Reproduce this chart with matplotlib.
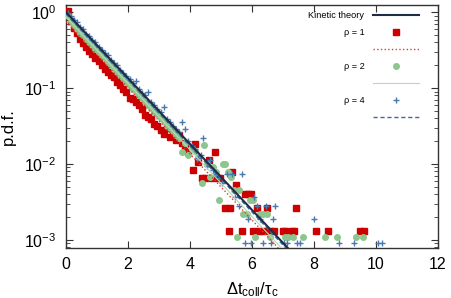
import matplotlib
matplotlib.use("Agg")
import matplotlib.pyplot as plt

plt.rcParams['font.family'] = ['Liberation Sans', 'DejaVu Sans']
plt.rcParams['mathtext.fontset'] = 'custom'
plt.rcParams['mathtext.rm'] = 'Liberation Sans'
plt.rcParams['mathtext.it'] = 'Liberation Sans'
plt.rcParams['mathtext.default'] = 'regular'

# ---------------- data ----------------
theory_t = [0.0, 7.3]
theory_p = [1.0, 6.76e-4]

fit1_t = [0.0, 7.0]
fit1_p = [0.75, 6.7e-4]
fit2_t = [0.0, 7.1]
fit2_p = [0.87, 6.7e-4]
fit4_t = [0.0, 7.2]
fit4_p = [0.95, 7.0e-4]

rho1_t = [0.05, 0.15, 0.25, 0.35, 0.45, 0.55, 0.65, 0.75, 0.85, 0.95,
          1.05, 1.15, 1.25, 1.35, 1.45, 1.55, 1.65, 1.75, 1.85, 1.95,
          2.05, 2.15, 2.25, 2.35, 2.45, 2.55, 2.65, 2.75, 2.85, 2.95,
          3.05, 3.15, 3.25, 3.35, 3.45, 3.55, 3.65, 3.75, 3.85, 3.95,
          4.10, 4.16, 4.26, 4.40, 4.50, 4.60, 4.70, 4.80, 4.90, 4.97,
          5.13, 5.26, 5.30, 5.35, 5.48, 5.67, 5.77, 5.87, 5.96, 6.04,
          6.15, 6.24, 6.37, 6.48, 6.58, 6.72, 6.99, 7.06, 7.28, 7.35,
          7.42, 8.08, 8.46, 9.48, 9.61]
rho1_p = [1.05, 0.76, 0.62, 0.53, 0.44, 0.39, 0.35, 0.31, 0.28, 0.25,
          0.225, 0.20, 0.18, 0.165, 0.148, 0.138, 0.12, 0.11, 0.096, 0.088,
          0.075, 0.071, 0.065, 0.060, 0.053, 0.044, 0.041, 0.039, 0.034, 0.032,
          0.028, 0.025, 0.030, 0.023, 0.027, 0.021, 0.024, 0.019, 0.017, 0.0145,
          0.0083, 0.0185, 0.0105, 0.0066, 0.0066, 0.0113, 0.0066, 0.0145, 0.0066, 0.0066,
          0.0026, 0.0013, 0.0026, 0.0079, 0.0053, 0.0013, 0.0040, 0.0040, 0.0040, 0.0013,
          0.0026, 0.0013, 0.0013, 0.0026, 0.0013, 0.0013, 0.0013, 0.0013, 0.0013, 0.0013,
          0.0026, 0.0013, 0.0013, 0.0013, 0.0013]

rho2_t = [0.05, 0.15, 0.25, 0.35, 0.45, 0.55, 0.65, 0.75, 0.85, 0.95,
          1.05, 1.15, 1.25, 1.35, 1.45, 1.55, 1.65, 1.75, 1.85, 1.95,
          2.05, 2.15, 2.25, 2.35, 2.45, 2.55, 2.65, 2.75, 2.85, 2.95,
          3.05, 3.15, 3.25, 3.35, 3.45, 3.55, 3.65, 3.75, 3.85, 3.95,
          4.05, 4.15, 4.25, 4.38, 4.45, 4.55, 4.65, 4.75, 4.85, 4.95,
          5.05, 5.13, 5.23, 5.32, 5.43, 5.51, 5.58, 5.70, 5.83, 5.94,
          6.02, 6.10, 6.26, 6.37, 6.50, 6.58, 7.06, 7.17, 7.31, 7.63,
          8.35, 8.75, 9.35, 9.59]
rho2_p = [0.90, 0.76, 0.68, 0.60, 0.53, 0.50, 0.44, 0.41, 0.37, 0.33,
          0.30, 0.27, 0.25, 0.22, 0.20, 0.18, 0.165, 0.148, 0.135, 0.12,
          0.11, 0.098, 0.09, 0.081, 0.074, 0.066, 0.061, 0.054, 0.049, 0.045,
          0.040, 0.037, 0.032, 0.030, 0.027, 0.024, 0.022, 0.0145, 0.019, 0.013,
          0.0157, 0.0146, 0.0123, 0.0056, 0.0179, 0.0101, 0.0067, 0.0090, 0.0078, 0.0034,
          0.0101, 0.0101, 0.0078, 0.0067, 0.0045, 0.0011, 0.0045, 0.0022, 0.0022, 0.0034,
          0.0034, 0.0011, 0.0022, 0.0022, 0.0022, 0.0011, 0.0011, 0.0011, 0.0011, 0.0011,
          0.0011, 0.0011, 0.0011, 0.0011]

rho4_t = [0.05, 0.15, 0.25, 0.35, 0.45, 0.55, 0.65, 0.75, 0.85, 0.95,
          1.05, 1.15, 1.25, 1.35, 1.45, 1.55, 1.65, 1.75, 1.85, 1.95,
          2.05, 2.15, 2.25, 2.35, 2.45, 2.55, 2.65, 2.75, 2.85, 2.95,
          3.05, 3.15, 3.25, 3.35, 3.45, 3.55, 3.65, 3.75, 3.85, 3.95,
          4.05, 4.15, 4.25, 4.35, 4.43, 4.55, 4.65, 4.75, 4.85, 4.95,
          5.02, 5.20, 5.35, 5.45, 5.58, 5.67, 5.77, 5.87, 5.97, 6.06,
          6.15, 6.26, 6.35, 6.45, 6.60, 6.67, 6.74, 7.04, 7.12, 7.44,
          7.55, 8.01, 8.81, 9.29, 10.07, 10.18]
rho4_p = [0.98, 0.90, 0.80, 0.74, 0.64, 0.60, 0.52, 0.49, 0.43, 0.40,
          0.35, 0.32, 0.29, 0.27, 0.235, 0.215, 0.20, 0.175, 0.16, 0.145,
          0.13, 0.118, 0.125, 0.097, 0.087, 0.080, 0.090, 0.065, 0.059, 0.053,
          0.048, 0.057, 0.039, 0.036, 0.032, 0.029, 0.026, 0.036, 0.029, 0.020,
          0.017, 0.0158, 0.0121, 0.0130, 0.022, 0.0093, 0.0112, 0.0084, 0.0074, 0.0065,
          0.0056, 0.0074, 0.0074, 0.0037, 0.0028, 0.0074, 0.0009, 0.0019, 0.0009, 0.0037,
          0.0028, 0.0019, 0.0009, 0.0028, 0.0009, 0.0019, 0.0028, 0.0009, 0.0009, 0.0009,
          0.0009, 0.0019, 0.0009, 0.0009, 0.0009, 0.0009]

x_ticks = [0, 2, 4, 6, 8, 10, 12]
y_ticks = [1e-3, 1e-2, 1e-1, 1e0]

# ---------------- colours ----------------
c_theory = '#1e2c45'
c_red = '#cc0000'
c_green = '#8cc68c'
c_blue = '#4a78b0'

fig = plt.figure(figsize=(4.51, 2.98), dpi=100)
ax = fig.add_axes([0.1463, 0.169, 0.9712 - 0.1463, 0.983 - 0.169])

ax.plot(theory_t, theory_p, color=c_theory, lw=1.5, label='Kinetic theory', zorder=5)
ax.plot(rho1_t, rho1_p, ls='none', marker='s', ms=4.2, mec=c_red, mfc=c_red, label='ρ = 1', zorder=3)
ax.plot(fit1_t, fit1_p, color='#e03a3a', ls=':', lw=1.0, label=' ', zorder=4)
ax.plot(rho2_t, rho2_p, ls='none', marker='o', ms=4.0, mec=c_green, mfc=c_green, label='ρ = 2', zorder=3)
ax.plot(fit2_t, fit2_p, color='#b2dcb2', ls='-', lw=0.8, label=' ', zorder=4)
ax.plot(rho4_t, rho4_p, ls='none', marker='+', ms=5, mew=1.0, color=c_blue, label='ρ = 4', zorder=3)
ax.plot(fit4_t, fit4_p, color='#3a6aa0', ls=(0, (3, 2)), lw=1.0, label=' ', zorder=4)

ax.set_yscale('log')
ax.set_xlim(0, 12)
ax.set_ylim(7.9e-4, 1.24)
ax.set_xticks(x_ticks)
ax.set_xticklabels([str(v) for v in x_ticks])
ax.set_yticks(y_ticks)

for s in ax.spines.values():
    s.set_linewidth(1.0)
    s.set_color('#333333')
ax.tick_params(which='major', direction='in', length=5, width=0.8, top=True, right=True,
               labelsize=11.5, pad=7, colors='#333333', labelcolor='black')
ax.tick_params(which='minor', direction='in', length=2.8, width=0.6, top=False, right=True,
               colors='#333333')
ax.tick_params(axis='x', which='minor', bottom=False, top=False)

ax.set_xlabel(r'$\Delta$t$_{\mathrm{coll}}$/$\tau_{\mathrm{c}}$', fontsize=12, labelpad=6)
ax.set_ylabel('p.d.f.', fontsize=12, labelpad=6)

leg = ax.legend(loc='upper right', bbox_to_anchor=(0.965, 1.0), frameon=False, markerfirst=False,
                fontsize=6.6, handlelength=5.0, labelspacing=0.86, handletextpad=0.9,
                borderpad=0.2, numpoints=1)

fig.savefig('out.png', dpi=100)
